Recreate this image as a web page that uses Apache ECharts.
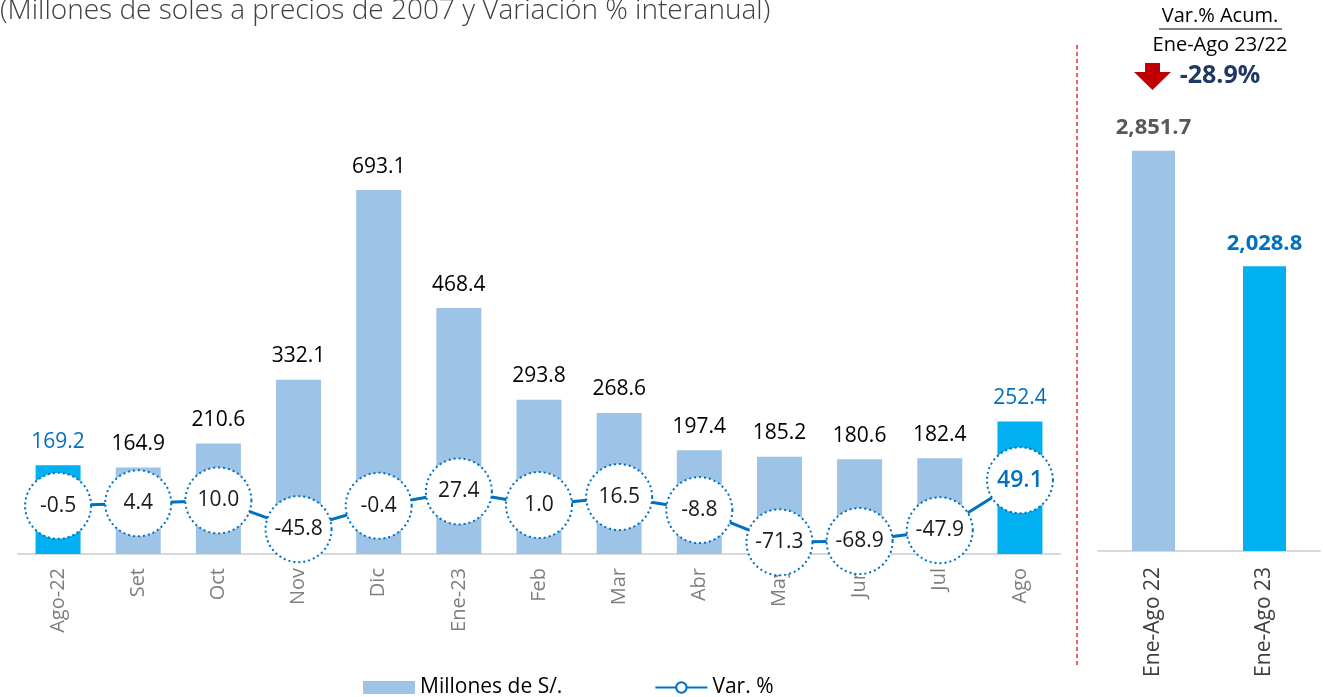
<!DOCTYPE html>
<html><head><meta charset="utf-8">
<script src="https://cdn.jsdelivr.net/npm/echarts@6/dist/echarts.min.js"></script>
<style>html,body{margin:0;padding:0;background:#fff}#c{width:1324px;height:697px}</style>
</head><body><div id="c"></div>
<script>
const categories = ['Ago-22','Set','Oct','Nov','Dic','Ene-23','Feb','Mar','Abr','May','Jun','Jul','Ago'];
const millones = [169.2,164.9,210.6,332.1,693.1,468.4,293.8,268.6,197.4,185.2,180.6,182.4,252.4];
const variacion = [-0.5,4.4,10.0,-45.8,-0.4,27.4,1.0,16.5,-8.8,-71.3,-68.9,-47.9,49.1];
const acumCategories = ['Ene-Ago 22','Ene-Ago 23'];
const acumValues = [2851.7,2028.8];
const acumVar = '-28.9%';

const FONT = 'Open Sans';
const LIGHT = '#9DC3E6', BRIGHT = '#00B0F0', BLUE = '#0070C0';
const highlight = [0, millones.length-1];

const barData = millones.map((v,i)=> highlight.includes(i) ? {
  value:v, itemStyle:{color:BRIGHT}, label:{color:BLUE}
} : v);
const lineData = variacion.map((v,i)=> i===variacion.length-1 ? {
  value:v, label:{color:BLUE, fontSize:23, fontWeight:600}
} : v);
const acumData = acumValues.map((v,i)=> i===0 ? {value:v, itemStyle:{color:LIGHT}, label:{color:'#595959'}}
  : {value:v, itemStyle:{color:BRIGHT}, label:{color:BLUE}});

const chart = echarts.init(document.getElementById('c'));
chart.setOption({
  animation:false,
  textStyle:{fontFamily:FONT},
  grid:[
    {left:18, width:1042, top:134, height:420},
    {left:1098, width:222, top:102, height:449}
  ],
  xAxis:[
    {type:'category', gridIndex:0, data:categories,
     axisLine:{lineStyle:{color:'#D9D9D9', width:2}}, axisTick:{show:false},
     axisLabel:{rotate:90, margin:14, fontSize:20, color:'#7F7F7F', fontFamily:FONT}},
    {type:'category', gridIndex:1, data:acumCategories,
     axisLine:{lineStyle:{color:'#D9D9D9', width:2}}, axisTick:{show:false},
     axisLabel:{rotate:90, margin:16, fontSize:21, color:'#404040', fontFamily:FONT}}
  ],
  yAxis:[
    {type:'value', gridIndex:0, min:0, max:800, show:false, splitLine:{show:false}},
    {type:'value', gridIndex:0, min:-94, max:721, show:false, splitLine:{show:false}},
    {type:'value', gridIndex:1, min:0, max:3200, show:false, splitLine:{show:false}}
  ],
  legend:{
    bottom:-6, left:358, itemGap:92, itemWidth:52, itemHeight:13,
    textStyle:{fontSize:21, color:'#000', fontFamily:FONT},
    data:[{name:'Millones de S/.', icon:'rect'}, {name:'Var. %'}]
  },
  series:[
    {name:'Millones de S/.', type:'bar', xAxisIndex:0, yAxisIndex:0, data:barData,
     barWidth:45, itemStyle:{color:LIGHT},
     label:{show:true, position:'top', distance:13, fontSize:21, color:'#000', fontWeight:500, fontFamily:FONT,
       formatter:p=>p.value.toFixed(1)}},
    {name:'Var. %', type:'line', xAxisIndex:0, yAxisIndex:1, data:lineData, z:5,
     lineStyle:{color:BLUE, width:3}, color:BLUE,
     symbol:'circle', symbolSize:66,
     itemStyle:{color:'#fff', borderColor:BLUE, borderWidth:2, borderType:[2,3]},
     label:{show:true, position:'inside', fontSize:21, color:'#1a1a1a', fontFamily:FONT,
       formatter:p=>p.value.toFixed(1)}},
    {name:'Acum', type:'bar', xAxisIndex:1, yAxisIndex:2, data:acumData, barWidth:43,
     label:{show:true, position:'top', distance:12, fontSize:22, fontWeight:'bold', fontFamily:FONT,
       formatter:p=>p.value.toLocaleString('en-US',{minimumFractionDigits:1,maximumFractionDigits:1})}}
  ],
  graphic:[
    {type:'text', left:0, top:-3, style:{text:'(Millones de soles a precios de 2007 y Variación % interanual)',
      font:'300 28px "Open Sans"', fill:'#404040'}},
    {type:'line', shape:{x1:1077,y1:45,x2:1077,y2:665}, style:{stroke:'#E0302E', lineWidth:1.5, lineDash:[4,3]}},
    {type:'text', x:1220, y:16, style:{text:'Var.% Acum.', font:'20px "Open Sans"', fill:'#000', align:'center', verticalAlign:'middle'}},
    {type:'line', shape:{x1:1159,y1:29,x2:1282,y2:29}, style:{stroke:'#000', lineWidth:1.2}},
    {type:'text', x:1220, y:45, style:{text:'Ene-Ago 23/22', font:'20px "Open Sans"', fill:'#000', align:'center', verticalAlign:'middle'}},
    {type:'polygon', shape:{points:[[1145,63],[1160,63],[1160,72],[1171,72],[1152.5,90],[1134,72],[1145,72]]}, style:{fill:'#C00000'}},
    {type:'text', x:1220, y:76, style:{text:acumVar, font:'bold 25px "Open Sans"', fill:'#1F3864', align:'center', verticalAlign:'middle'}}
  ]
});
</script></body></html>
